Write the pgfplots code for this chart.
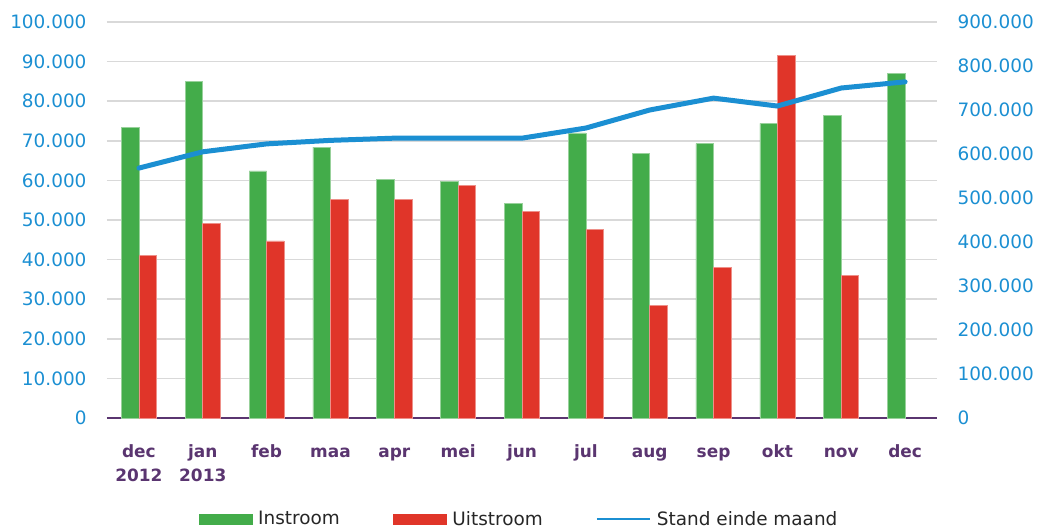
\documentclass[border=0pt]{standalone}
\usepackage{pgfplots}
\pgfplotsset{compat=1.18}
\usepackage{fontspec}
\setmainfont{DejaVu Sans}
\definecolor{cgreen}{HTML}{43AC4A}
\definecolor{cred}{HTML}{E03529}
\definecolor{cblue}{HTML}{1B8FD2}
\definecolor{cpurple}{HTML}{5A3570}
\definecolor{cgrid}{HTML}{D9D9D9}
\begin{document}
\begin{tikzpicture}
\path[use as bounding box] (-107bp,-111bp) rectangle (931bp,418bp);
\begin{axis}[
  scale only axis, width=830bp, height=396bp,
  xmin=-0.5, xmax=12.5, ymin=0, ymax=100000,
  axis x line*=bottom, axis y line*=left,
  x axis line style={draw=cpurple, line width=2bp, -},
  y axis line style={draw=none},
  major tick length=0pt,
  ytick={0,10000,...,100000},
  scaled y ticks=false,
  ymajorgrids, grid style={cgrid, line width=1.5bp},
  yticklabel style={font=\fontsize{18.5}{20}\selectfont, color=cblue, xshift=-17bp,
    /pgf/number format/.cd, fixed, 1000 sep={.}, assume math mode=true},
  xtick={0,...,12},
  xticklabels={{\strut dec\\\strut 2012},{\strut jan\\\strut 2013},\strut feb,\strut maa,\strut apr,\strut mei,\strut jun,\strut jul,\strut aug,\strut sep,\strut okt,\strut nov,\strut dec},
  xticklabel style={align=center, font=\bfseries\fontsize{17}{24}\selectfont, color=cpurple, yshift=-19bp},
  legend columns=3,
  legend style={at={(axis description cs:0.5,0)}, anchor=center, yshift=-101bp, xshift=-3bp, draw=none,
    font=\fontsize{18.5}{20}\selectfont, text=black!85,
    /tikz/every even column/.append style={column sep=51bp},
    /tikz/every odd column/.append style={column sep=4bp}},
]
\addplot[ybar, bar width=0.275, bar shift=-0.1375, fill=cgreen, draw=cgreen!55!white, line width=0.6bp,
  legend image code/.code={\fill[cgreen] (0bp,-5bp) rectangle (53bp,5bp);}]
  coordinates {(0,73400) (1,85100) (2,62400) (3,68400) (4,60200) (5,59700) (6,54100) (7,72000) (8,66800) (9,69300) (10,74400) (11,76400) (12,87100)};
\addlegendentry{Instroom}
\addplot[ybar, bar width=0.275, bar shift=0.1375, fill=cred, draw=cred!55!white, line width=0.6bp,
  legend image code/.code={\fill[cred] (0bp,-5bp) rectangle (53bp,5bp);}]
  coordinates {(0,41000) (1,49100) (2,44700) (3,55200) (4,55200) (5,58800) (6,52200) (7,47700) (8,28500) (9,38100) (10,91600) (11,36100)};
\addlegendentry{Uitstroom}
\addlegendimage{legend image code/.code={\draw[cblue, line width=2.2bp] (0bp,0bp) -- (53bp,0bp);}}
\addlegendentry{Stand einde maand}
\end{axis}
\begin{axis}[
  scale only axis, width=830bp, height=396bp,
  xmin=-0.5, xmax=12.5, ymin=0, ymax=900000,
  axis y line*=right, axis x line=none,
  y axis line style={draw=none},
  major tick length=0pt,
  ytick={0,100000,...,900000},
  scaled y ticks=false,
  yticklabel style={font=\fontsize{18.5}{20}\selectfont, color=cblue, xshift=17bp,
    /pgf/number format/.cd, fixed, 1000 sep={.}, assume math mode=true},
]
\addplot[cblue, line width=5bp, line join=round, line cap=round, mark=none]
  coordinates {(0,568000) (1,605000) (2,623000) (3,631000) (4,636000) (5,636000) (6,636000) (7,659000) (8,700000) (9,727000) (10,709000) (11,750000) (12,764000)};
\end{axis}
\end{tikzpicture}
\end{document}
